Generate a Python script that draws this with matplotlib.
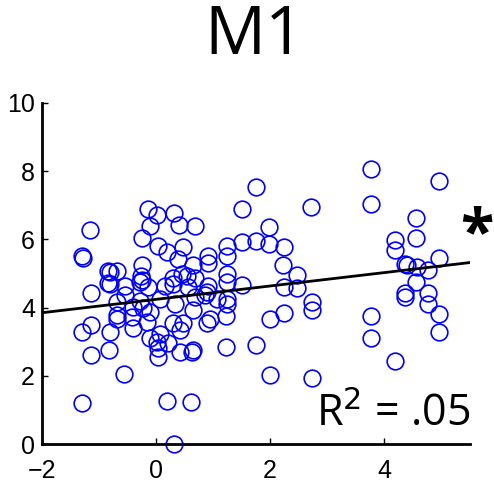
import numpy as np
import matplotlib.pyplot as plt

plt.rcParams['font.family'] = 'Open Sans'

# scatter values
x_vals = [-1.16, -1.30, -1.28, -0.84, -0.68, -0.25, -0.26, -0.14, 0.02, -0.11,
          -0.25, 0.04, 0.19, 0.32, 0.40, 0.47, 0.39, 0.68, 1.51, 2.72,
          1.98, 1.25, 1.51, 1.75, 1.98, 2.25, 1.25, 0.91, 0.91, 2.23,
          2.47, 1.25, 1.25, 1.51, 2.25, 2.47, 1.75, 0.65, 0.68, 0.89,
          1.25, 2.74, 2.74, 2.00, 2.25, 2.00, 2.74, 1.75, 1.23, 1.23,
          1.25, 0.89, 0.95, 0.65, 3.77, 4.96, 3.77, 4.56, 4.18, 4.56,
          4.18, 4.96, 4.37, 4.40, 4.58, 4.77, 4.56, 4.37, 4.37, 4.77,
          4.77, 4.96, 4.96, 3.77, 3.77, 4.18, -1.30, 0.19, 0.61, 0.32,
          -0.56, -1.14, -0.82, -1.30, -1.14, -0.81, -1.14, -0.81, -0.81, -0.54,
          -0.54, -0.68, -0.68, -0.68, -0.40, -0.40, -0.42, -0.28, -0.14, -0.28,
          -0.23, -0.16, -0.11, -0.11, 0.02, 0.04, 0.04, 0.07, 0.21, 0.16,
          0.30, 0.33, 0.30, 0.42, 0.47, 0.42, 0.63, 0.46, 0.54, 0.56,
          0.68, 0.65, 0.86, 0.91, 1.07, -0.84, -0.25, 0.30, 0.07]
y_vals = [6.26, 5.50, 5.44, 5.06, 5.06, 5.26, 4.91, 6.88, 6.71, 6.38,
          6.03, 5.79, 5.62, 6.76, 6.41, 5.76, 5.41, 6.38, 6.88, 6.94,
          6.35, 5.79, 5.91, 5.94, 5.85, 5.76, 5.50, 5.50, 5.32, 5.24,
          4.94, 4.97, 4.74, 4.65, 4.59, 4.56, 7.53, 5.26, 4.88, 4.47,
          4.24, 4.15, 3.94, 3.65, 3.85, 2.03, 1.94, 2.91, 2.85, 3.74,
          4.09, 3.56, 3.65, 2.76, 8.06, 7.71, 7.03, 6.62, 5.97, 6.03,
          5.68, 5.44, 5.29, 5.24, 5.18, 5.09, 4.76, 4.44, 4.32, 4.44,
          4.09, 3.82, 3.29, 3.74, 3.12, 2.44, 1.21, 1.26, 1.24, 0.00,
          2.06, 2.62, 2.76, 3.29, 3.50, 3.29, 4.44, 4.68, 5.03, 4.62,
          4.38, 4.15, 3.79, 3.65, 4.03, 3.41, 3.71, 4.74, 4.59, 4.18,
          4.00, 3.59, 3.88, 3.12, 3.00, 2.82, 2.56, 3.21, 2.97, 4.62,
          4.88, 4.09, 3.56, 3.35, 3.56, 2.71, 2.71, 4.97, 4.91, 4.59,
          4.32, 3.94, 4.38, 4.62, 4.24, 4.71, 4.82, 4.68, 4.24]

# regression line
fit_intercept = 4.24
fit_slope = 0.196
r2_text = 'R$^2$ = .05'

x_ticks = [-2, 0, 2, 4]
y_ticks = [0, 2, 4, 6, 8, 10]

fig = plt.figure(figsize=(4.94, 4.86), dpi=100)
ax = fig.add_axes([0.085, 0.0864, 0.866, 0.702])

ax.plot(x_vals, y_vals, 'o', mfc='none', mec='#0000ff', ms=12, mew=1.2, clip_on=False)

xl = np.array([-2, 5.5])
ax.plot(xl, fit_intercept + fit_slope * xl, color='black', lw=2)

ax.set_xlim(-2, 5.5)
ax.set_ylim(0, 10)
ax.set_xticks(x_ticks)
ax.set_yticks(y_ticks)
ax.spines['top'].set_visible(False)
ax.spines['right'].set_visible(False)
for s in ['left', 'bottom']:
    ax.spines[s].set_linewidth(2)
ax.tick_params(direction='in', length=4, width=1, labelsize=18)
ax.tick_params(axis='y', pad=5)
ax.tick_params(axis='x', pad=11)
ax.set_xticklabels([f'\u2212{abs(t)}' if t < 0 else str(t) for t in x_ticks])
for lab in ax.get_xticklabels() + ax.get_yticklabels():
    lab.set_fontfamily('Liberation Sans')

ax.text(1.0, 0.02, r2_text, transform=ax.transAxes, ha='right', va='bottom', fontsize=31)
fig.text(0.966, 0.515, '*', ha='center', va='center', fontsize=44, fontweight='bold')
fig.text(0.515, 0.925, 'M1', ha='center', va='center', fontsize=49)

fig.savefig('out.png', dpi=100, facecolor='white')
